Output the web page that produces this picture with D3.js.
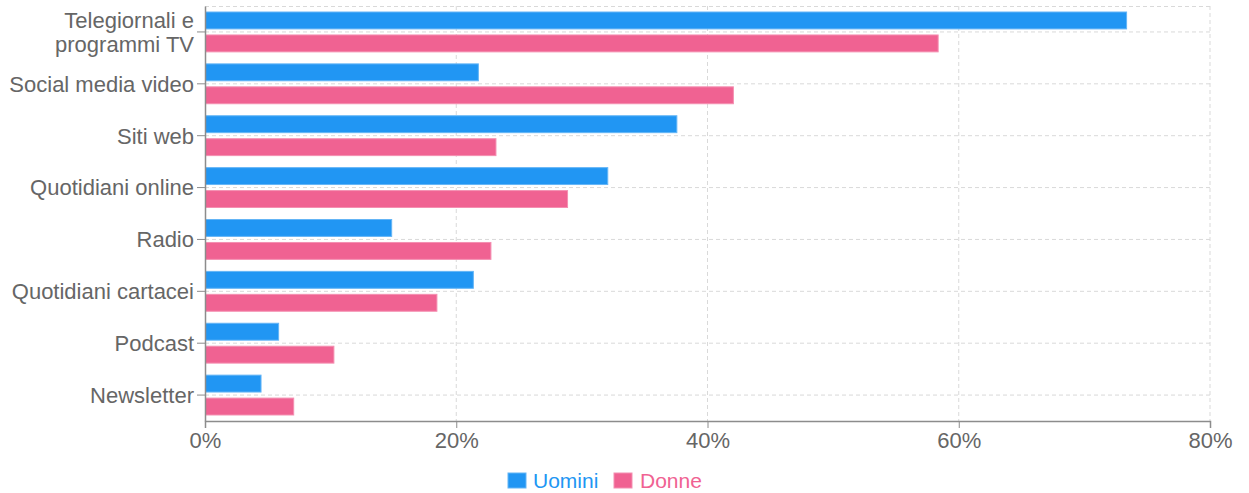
<!DOCTYPE html>
<html><head><meta charset="utf-8">
<script src="https://cdn.jsdelivr.net/npm/d3@7"></script>
<style>html,body{margin:0;padding:0;background:#fff;}svg{display:block;font-family:"Liberation Sans",Arial,sans-serif;}</style>
</head><body><svg id="c" width="1249" height="493"></svg>
<script>
const categories = [["Telegiornali e","programmi TV"],["Social media video"],["Siti web"],["Quotidiani online"],["Radio"],["Quotidiani cartacei"],["Podcast"],["Newsletter"]];
const seriesNames = ["Uomini","Donne"];
const uomini = [73.4, 21.8, 37.6, 32.1, 14.9, 21.4, 5.9, 4.5];
const donne  = [58.4, 42.1, 23.2, 28.9, 22.8, 18.5, 10.3, 7.1];
const xTicks = [0,20,40,60,80];
const colors = ["#2196F3","#F06292"];
const borders = ["#64B5F6","#F48FB1"];

const svg = d3.select("#c");
const L=205, R=1210, T=6, B=421;
const x = d3.scaleLinear().domain([0,80]).range([L,R]);
const keys = categories.map(c=>c.join(" "));
const y0 = d3.scaleBand().domain(keys).range([T,B]).padding(0);
const y1 = d3.scaleBand().domain(seriesNames).range([0,y0.bandwidth()]).paddingInner(0.22).paddingOuter(0.24);
const grid = "#d9d9d9", axisC="#8c8c8c", txt="#666";

// grid
const g = svg.append("g");
keys.forEach(k=>{
  const yy = y0(k)+y0.bandwidth()/2;
  g.append("line").attr("x1",L).attr("x2",R).attr("y1",yy).attr("y2",yy).attr("stroke",grid).attr("stroke-dasharray","4,3");
});
g.append("line").attr("x1",L).attr("x2",R).attr("y1",T+0.5).attr("y2",T+0.5).attr("stroke",grid).attr("stroke-dasharray","4,3");
xTicks.slice(1).forEach(t=>{
  g.append("line").attr("x1",x(t)).attr("x2",x(t)).attr("y1",T).attr("y2",B).attr("stroke",grid).attr("stroke-dasharray","4,3");
});

// bars
const data = [uomini, donne];
keys.forEach((k,i)=>{
  seriesNames.forEach((s,j)=>{
    svg.append("rect").attr("x",x(0)+0.5).attr("y",y0(k)+y1(s)+0.5)
      .attr("width",x(data[j][i])-x(0)-1).attr("height",y1.bandwidth()-1)
      .attr("fill",colors[j]).attr("stroke",borders[j]).attr("stroke-width",1);
  });
});

// axes
const xa = svg.append("g").attr("transform",`translate(0,${B})`).call(d3.axisBottom(x).tickValues(xTicks).tickFormat(d=>d+"%").tickSizeOuter(0).tickSize(7));
xa.select(".domain").attr("stroke",axisC).attr("stroke-width",1.5);
xa.selectAll(".tick line").attr("stroke",axisC);
xa.selectAll(".tick text").attr("fill",txt).style("font-size","22px").attr("font-family","inherit").attr("y",27).attr("dy",null);

const ya = svg.append("g").attr("transform",`translate(${L},0)`).call(d3.axisLeft(y0).tickSize(8).tickSizeOuter(0).tickFormat(""));
ya.select(".domain").attr("stroke",axisC).attr("stroke-width",1.5);
ya.selectAll(".tick line").attr("stroke",axisC);
keys.forEach((k,i)=>{
  const lines = categories[i];
  const yy = y0(k)+y0.bandwidth()/2;
  const lh = 23.5;
  lines.forEach((ln,li)=>{
    svg.append("text").attr("x",194).attr("y",yy+(li-(lines.length-1)/2)*lh).attr("dy","0.36em")
      .attr("text-anchor","end").attr("fill",txt).style("font-size","22px").text(ln);
  });
});

// legend
const leg = [[508,533],[614,640]];
seriesNames.forEach((s,j)=>{
  svg.append("rect").attr("x",leg[j][0]).attr("y",473).attr("width",18).attr("height",15).attr("fill",colors[j]).attr("stroke",borders[j]);
  svg.append("text").attr("x",leg[j][1]).attr("y",480).attr("dy","0.36em").attr("fill",colors[j]).style("font-size","21px").text(s);
});
</script></body></html>
